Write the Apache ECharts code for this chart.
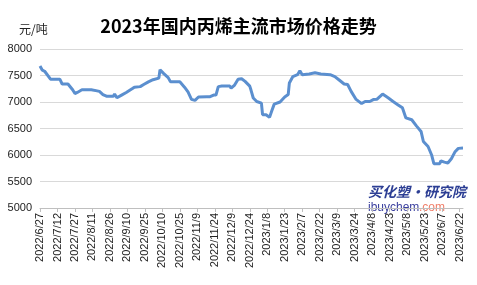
<!DOCTYPE html>
<html><head><meta charset="utf-8">
<script src="https://cdn.jsdelivr.net/npm/echarts@6/dist/echarts.min.js"></script>
<style>html,body{margin:0;padding:0;background:#fff}#c{width:477px;height:285px}</style>
</head><body><div id="c"></div>
<script>
var titleText = '2023年国内丙烯主流市场价格走势';
var yUnit = '元/吨';
var startDate = '2022/6/27';
var endDate = '2023/6/25';
var yTicks = [5000, 5500, 6000, 6500, 7000, 7500, 8000];
var pointDates = ['2022/6/27','2022/6/29','2022/7/1','2022/7/6','2022/7/14','2022/7/16','2022/7/21','2022/7/25','2022/7/27','2022/7/29',
'2022/8/2','2022/8/5','2022/8/6','2022/8/10','2022/8/15','2022/8/17','2022/8/20','2022/8/23','2022/8/29','2022/8/30',
'2022/9/1','2022/9/5','2022/9/9','2022/9/14','2022/9/16','2022/9/21','2022/9/24','2022/9/28','2022/10/2','2022/10/7',
'2022/10/8','2022/10/11','2022/10/15','2022/10/17','2022/10/21','2022/10/25','2022/10/29','2022/11/1','2022/11/4','2022/11/7',
'2022/11/10','2022/11/17','2022/11/20','2022/11/23','2022/11/25','2022/11/27','2022/11/30','2022/12/7','2022/12/8','2022/12/11',
'2022/12/14','2022/12/17','2022/12/20','2022/12/24','2022/12/25','2022/12/27','2022/12/30','2023/1/3','2023/1/4','2023/1/7',
'2023/1/10','2023/1/12','2023/1/14','2023/1/19','2023/1/23','2023/1/26','2023/1/27','2023/1/30','2023/2/3','2023/2/5',
'2023/2/7','2023/2/13','2023/2/18','2023/2/23','2023/3/3','2023/3/7','2023/3/11','2023/3/15','2023/3/18','2023/3/21',
'2023/3/25','2023/3/30','2023/4/2','2023/4/6','2023/4/9','2023/4/12','2023/4/17','2023/4/22','2023/4/26','2023/4/30',
'2023/5/4','2023/5/7','2023/5/12','2023/5/16','2023/5/20','2023/5/22','2023/5/26','2023/5/29','2023/5/31','2023/6/5',
'2023/6/6','2023/6/9','2023/6/12','2023/6/15','2023/6/18','2023/6/21','2023/6/25'];
var priceValues = [7680,7600,7580,7430,7430,7340,7340,7230,7160,7180,
7230,7230,7200,7230,7210,7200,7140,7110,7110,7150,
7080,7130,7180,7250,7280,7290,7330,7380,7420,7450,
7610,7540,7460,7380,7380,7380,7280,7190,7050,7030,
7095,7100,7100,7130,7130,7290,7300,7300,7260,7320,
7430,7440,7390,7300,7230,7075,7010,6980,6760,6760,
6710,6840,6960,7000,7095,7140,7360,7480,7515,7590,
7515,7530,7550,7530,7515,7480,7410,7340,7330,7200,
7055,6970,7010,7010,7045,7050,7150,7075,7010,6950,
6890,6700,6665,6550,6445,6255,6160,6005,5835,5835,
5890,5865,5850,5930,6055,6125,6130];

function fmt(d){return d.getFullYear()+'/'+(d.getMonth()+1)+'/'+d.getDate();}
var categories = [];
(function(){
  var p = startDate.split('/'), q = endDate.split('/');
  var d = new Date(+p[0], +p[1]-1, +p[2]);
  var e = new Date(+q[0], +q[1]-1, +q[2]);
  while (d <= e) { categories.push(fmt(d)); d = new Date(d.getFullYear(), d.getMonth(), d.getDate()+1); }
})();
var seriesData = pointDates.map(function(dt,i){return [dt, priceValues[i]];});

var chart = echarts.init(document.getElementById('c'), null, {renderer:'canvas'});
chart.setOption({
  animation:false,
  backgroundColor:'#fff',
  title:{text:titleText,left:'center',top:12,textStyle:{fontFamily:'"Noto Sans CJK SC"',fontWeight:'bold',fontSize:18,color:'#000'}},
  grid:{left:40,right:14,top:49,bottom:77,containLabel:false},
  xAxis:{type:'category',data:categories,boundaryGap:false,
    axisLine:{lineStyle:{color:'#bfbfbf'}},
    axisTick:{interval:14,length:4,lineStyle:{color:'#bfbfbf'}},
    axisLabel:{interval:14,rotate:90,fontSize:11,color:'#222',fontFamily:'"Liberation Sans"',margin:5}
  },
  yAxis:{type:'value',min:yTicks[0],max:yTicks[yTicks.length-1],interval:500,
    name:yUnit,nameLocation:'end',nameGap:10,nameTextStyle:{fontSize:12,color:'#222',fontFamily:'"Noto Sans CJK SC"',align:'right',padding:[0,-6,0,0]},
    axisLine:{show:false},axisTick:{show:false},
    splitLine:{lineStyle:{color:'#d9d9d9'}},
    axisLabel:{fontSize:11,color:'#222',fontFamily:'"Liberation Sans"',margin:8,formatter:function(v){return String(v);}}
  },
  series:[{type:'line',data:seriesData,showSymbol:false,symbol:'none',
    lineStyle:{color:'#5b8fcf',width:3},itemStyle:{color:'#5b8fcf'}}],
  graphic:[
    {type:'text',left:19,top:23,style:{text:yUnit,font:'12px "Noto Sans CJK SC"',fill:'#222'}},
    {type:'text',left:368,top:185,style:{text:'买化塑·研究院',font:'italic bold 14px "Noto Sans CJK SC"',fill:'#2c3e94'}},
    {type:'text',left:368,top:202,style:{text:'ibuychem',font:'12px "Liberation Sans"',fill:'#3a3f9e'}},
    {type:'text',left:419,top:202,style:{text:'.com',font:'12px "Liberation Sans"',fill:'#f07f6a'}}
  ]
});
chart.setOption({yAxis:{name:''}});
</script></body></html>
